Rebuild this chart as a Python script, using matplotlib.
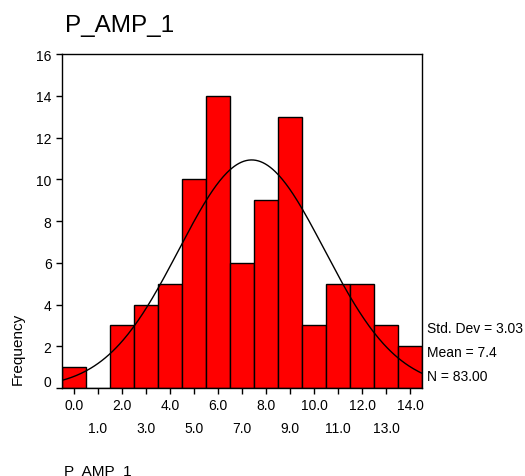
import numpy as np
import matplotlib
matplotlib.use('Agg')
import matplotlib.pyplot as plt
from matplotlib.transforms import ScaledTranslation

plt.rcParams['font.family'] = ['Liberation Sans', 'DejaVu Sans']

# histogram data (bin centres and counts)
bins = [0, 1, 2, 3, 4, 5, 6, 7, 8, 9, 10, 11, 12, 13, 14]
counts = [1, 0, 3, 4, 5, 10, 14, 6, 9, 13, 3, 5, 5, 3, 2]
mean = 7.4
std = 3.03
n = 83
y_ticks = [0, 2, 4, 6, 8, 10, 12, 14, 16]

fig = plt.figure(figsize=(5.25, 4.77), dpi=100)
ax = fig.add_axes([0.118, 0.1845, 0.686, 0.7])

ax.bar(bins, counts, width=1.0, color='#ff0000', edgecolor='black', linewidth=1.0, zorder=2)

# normal curve scaled to counts
xs = np.linspace(-0.5, 14.5, 300)
ys = n * 1.0 / (std * np.sqrt(2 * np.pi)) * np.exp(-0.5 * ((xs - mean) / std) ** 2)
ax.plot(xs, ys, color='black', linewidth=1.0, zorder=3)

ax.set_xlim(-0.5, 14.5)
ax.set_ylim(0, 16)
ax.set_yticks(y_ticks)
ax.set_yticklabels([str(v) for v in y_ticks], fontsize=10)

# even bins on the first row, odd bins on a second row
even_bins = bins[::2]
odd_bins = bins[1::2]
ax.set_xticks(even_bins)
ax.set_xticklabels([f'{b:.1f}' for b in even_bins], fontsize=10)
ax.set_xticks(odd_bins, minor=True)
ax.set_xticklabels([f'{b:.1f}' for b in odd_bins], minor=True, fontsize=10)
ax.tick_params(which='both', direction='out', length=4, width=1, color='black')
ax.tick_params(axis='x', which='minor', pad=20)
for s in ax.spines.values():
    s.set_linewidth(1.0)

# SPSS draws the "0" label a bit above the baseline
zero_lbl = ax.get_yticklabels()[0]
zero_lbl.set_transform(zero_lbl.get_transform() + ScaledTranslation(0, 7 / 100, fig.dpi_scale_trans))

fig.text(0.124, 0.945, 'P_AMP_1', fontsize=17.5, ha='left', va='center')
fig.text(0.034, 0.268, 'Frequency', fontsize=11, rotation=90, ha='center', va='center')
fig.text(0.122, 0.004, 'P_AMP_1', fontsize=11, ha='left', va='baseline')

fig.text(0.813, 0.31, f'Std. Dev = {std:.2f}', fontsize=10, ha='left', va='center')
fig.text(0.813, 0.26, f'Mean = {mean:.1f}', fontsize=10, ha='left', va='center')
fig.text(0.813, 0.209, f'N = {n:.2f}', fontsize=10, ha='left', va='center')

fig.savefig('out.png', dpi=100)
